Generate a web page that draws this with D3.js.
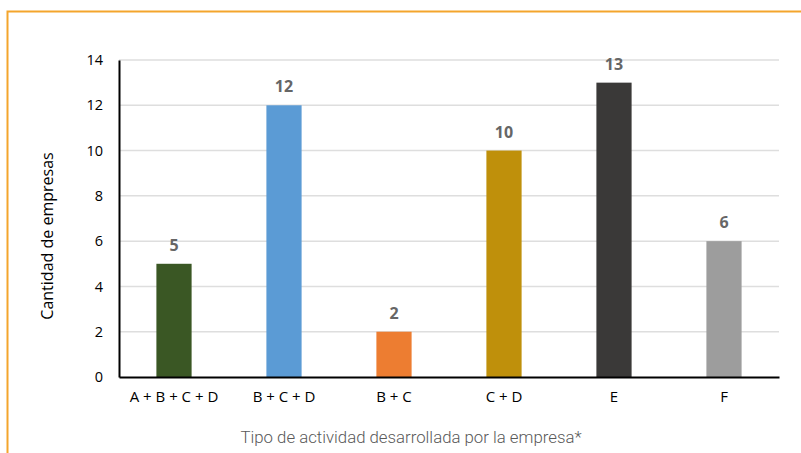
<!DOCTYPE html>
<html>
<head>
<meta charset="utf-8">
<script src="https://cdn.jsdelivr.net/npm/d3@7"></script>
<style>
  body { margin: 0; background: #fff; }
</style>
</head>
<body>
<div class="chart-container"></div>
<script>
const categories = ['A + B + C + D', 'B + C + D', 'B + C', 'C + D', 'E', 'F'];
const values = [5, 12, 2, 10, 13, 6];
const barColors = ['#3a5724', '#5b9bd5', '#ed7d31', '#bf900b', '#3a3938', '#9d9d9d'];
const yTicks = [0, 2, 4, 6, 8, 10, 12, 14];

const width = 801;
const height = 453;
const margin = { top: 60, right: 22, bottom: 76, left: 119 };

const svg = d3.select('.chart-container')
    .append('svg')
    .attr('width', width)
    .attr('height', height);

// orange frame (top and left edges)
svg.append('path')
    .attr('d', `M7.5,${height} V11.5 H${width}`)
    .attr('fill', 'none')
    .attr('stroke', '#f4a52c')
    .attr('stroke-width', 2);

const x = d3.scaleBand()
    .domain(categories)
    .range([margin.left, width - margin.right])
    .paddingInner(0.68)
    .paddingOuter(0.34);

const y = d3.scaleLinear()
    .domain([0, 14])
    .range([height - margin.bottom, margin.top]);

// gridlines
svg.append('g')
    .attr('class', 'grid')
    .selectAll('line')
    .data(yTicks.filter(d => d > 0))
    .enter()
    .append('line')
    .attr('x1', margin.left)
    .attr('x2', width - margin.right)
    .attr('y1', d => y(d))
    .attr('y2', d => y(d))
    .attr('stroke', '#dedede')
    .attr('stroke-width', 1.5);

// bars
svg.append('g')
    .selectAll('rect')
    .data(values)
    .enter()
    .append('rect')
    .attr('x', (d, i) => x(categories[i]))
    .attr('width', x.bandwidth())
    .attr('y', d => y(d))
    .attr('height', d => y(0) - y(d))
    .attr('fill', (d, i) => barColors[i]);

// value labels
svg.append('g')
    .selectAll('text')
    .data(values)
    .enter()
    .append('text')
    .attr('x', (d, i) => x(categories[i]) + x.bandwidth() / 2)
    .attr('y', d => y(d) - 13)
    .attr('text-anchor', 'middle')
    .attr('fill', '#666')
    .style('font-family', 'Open Sans')
    .style('font-weight', 'bold')
    .style('font-size', '16px')
    .text(d => d);

// y axis
const yAxis = svg.append('g')
    .attr('transform', `translate(${margin.left},0)`)
    .call(d3.axisLeft(y).tickValues(yTicks).tickSize(0).tickPadding(16));
yAxis.select('.domain').attr('stroke', '#000').attr('stroke-width', 2);
yAxis.selectAll('text')
    .style('font-family', 'Open Sans')
    .style('font-size', '14.5px')
    .attr('fill', '#000');

// x axis
const xAxis = svg.append('g')
    .attr('transform', `translate(0,${y(0)})`)
    .call(d3.axisBottom(x).tickSize(0).tickPadding(14));
xAxis.select('.domain').attr('stroke', '#000').attr('stroke-width', 2);
xAxis.selectAll('text')
    .style('font-family', 'Open Sans')
    .style('font-size', '15px')
    .attr('fill', '#000');

// axis titles
svg.append('text')
    .attr('transform', `translate(53,236) rotate(-90)`)
    .attr('text-anchor', 'middle')
    .attr('fill', '#000')
    .style('font-family', 'Open Sans')
    .style('font-size', '16px')
    .text('Cantidad de empresas');

svg.append('text')
    .attr('x', 411)
    .attr('y', 443)
    .attr('text-anchor', 'middle')
    .attr('fill', '#595959')
    .style('font-family', 'Roboto')
    .style('font-weight', 300)
    .style('font-size', '16.8px')
    .text('Tipo de actividad desarrollada por la empresa*');
</script>
</body>
</html>
